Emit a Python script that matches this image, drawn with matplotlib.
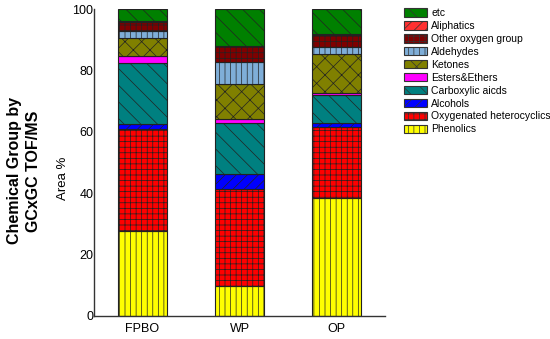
import numpy as np
import matplotlib
matplotlib.use("Agg")
import matplotlib.pyplot as plt
from matplotlib.patches import Patch

plt.rcParams['font.family'] = ['Liberation Sans', 'DejaVu Sans']
plt.rcParams['hatch.linewidth'] = 0.5

samples = ['FPBO', 'WP', 'OP']
groups = ['Phenolics', 'Oxygenated heterocyclics', 'Alcohols', 'Carboxylic aicds',
          'Esters&Ethers', 'Ketones', 'Aldehydes', 'Other oxygen group',
          'Aliphatics', 'etc']

phenolics   = [27.8, 9.8, 38.5]
oxy_het     = [33.1, 31.5, 23.2]
alcohols    = [1.6, 4.9, 1.1]
carboxylic  = [20.0, 16.8, 9.3]
esters      = [2.2, 1.2, 0.5]
ketones     = [5.7, 11.3, 12.6]
aldehydes   = [2.5, 7.1, 2.4]
other_oxy   = [2.8, 5.4, 3.8]
aliphatics  = [0.5, 0.0, 0.3]
etc         = [3.8, 12.0, 8.3]

series = [phenolics, oxy_het, alcohols, carboxylic, esters,
          ketones, aldehydes, other_oxy, aliphatics, etc]
colors = ['#FFFF00', '#FF0000', '#0000FF', '#008080', '#FF00FF',
          '#808000', '#7FAED8', '#800000', '#FF3030', '#008000']
hatches = ['|||', '+++', '///', '\\\\', '', 'xx', '|||', '+++', '///', '\\\\']

fig = plt.figure(figsize=(5.5, 3.39), dpi=100)
ax = fig.add_axes([94/550, 1-316/339, (385-94)/550, (316-9)/339])

x = np.arange(len(samples))
bottom = np.zeros(len(samples))
for vals, c, h in zip(series, colors, hatches):
    ax.bar(x, vals, 0.5, bottom=bottom, color=c, hatch=h,
           edgecolor='#222222', linewidth=0.8)
    bottom += np.array(vals)

ax.set_xlim(-0.5, 2.5)
ax.set_ylim(0, 100)
ax.set_xticks(x)
ax.set_xticklabels(samples, fontsize=9)
ax.set_yticks(range(0, 101, 20))
ax.tick_params(axis='y', labelsize=9, length=0, pad=0.5)
ax.tick_params(axis='x', length=0, pad=5)
for s in ['top', 'right']:
    ax.spines[s].set_visible(False)
for s in ['left', 'bottom']:
    ax.spines[s].set_color('#333333')
    ax.spines[s].set_linewidth(1.0)

ax.set_ylabel('Area %', fontsize=9.5)
ax.yaxis.set_label_coords(-0.085, 0.45)
fig.text(24/550, 1-171/339, 'Chemical Group by\nGCxGC TOF/MS', rotation=90,
         ha='center', va='center', fontsize=11.5, fontweight='bold',
         linespacing=1.35)

handles = [Patch(facecolor=c, hatch=h, edgecolor='#333333', linewidth=0.8, label=g)
           for g, c, h in zip(groups, colors, hatches)]
ax.legend(handles[::-1], groups[::-1], loc='upper left',
          bbox_to_anchor=(400/550, 1-4/339), bbox_transform=fig.transFigure,
          frameon=False, fontsize=7.5, handlelength=2.2, handleheight=0.85,
          labelspacing=0.28, handletextpad=0.4, borderaxespad=0)

fig.savefig('out.png', dpi=100)
